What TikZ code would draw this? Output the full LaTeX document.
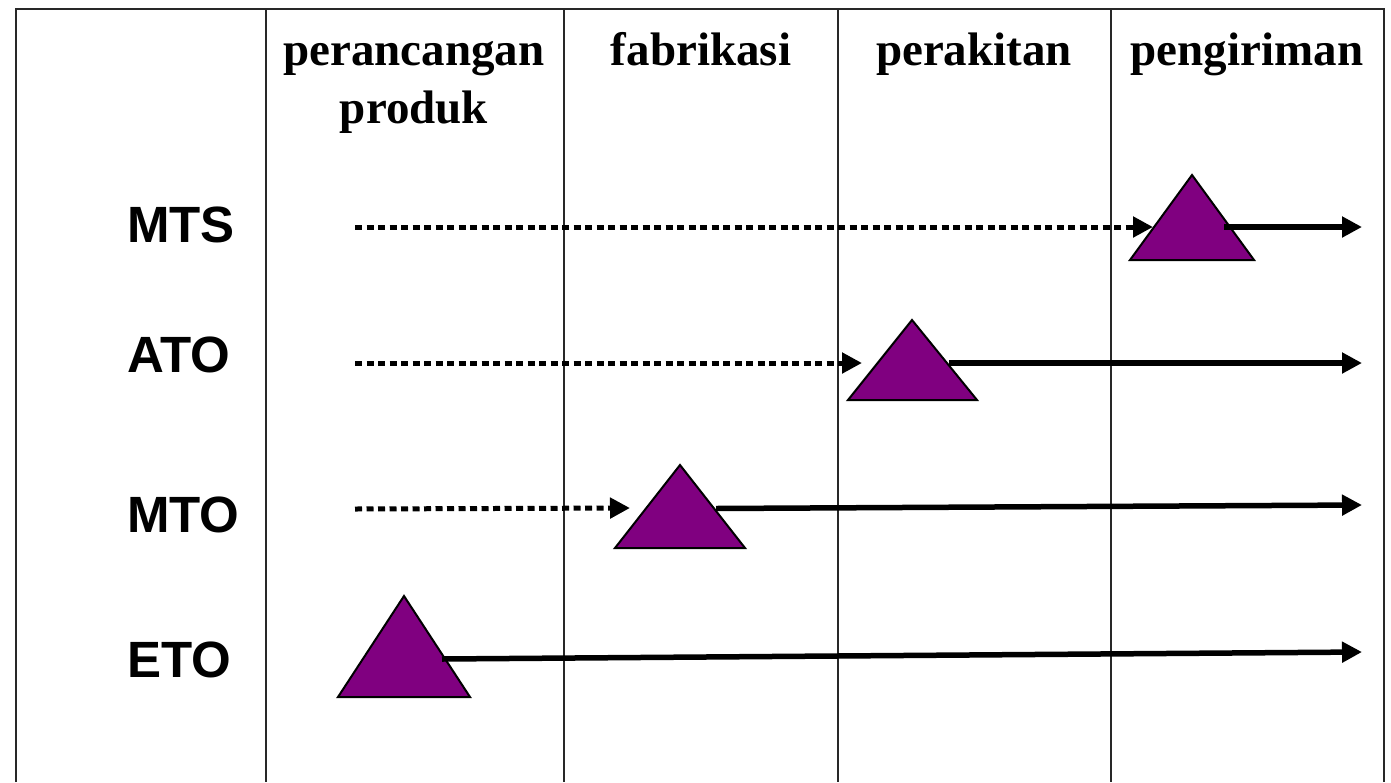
\documentclass[tikz,border=0pt]{standalone}
\usepackage{fontspec}
\setmainfont{Liberation Serif}
\newfontfamily\lblfont{Liberation Sans}
\usetikzlibrary{arrows.meta}
\definecolor{tripurple}{RGB}{128,0,128}
\definecolor{gridgray}{RGB}{40,40,40}
\tikzset{
  gridline/.style={draw=gridgray, line width=2pt},
  header/.style={font=\bfseries\fontsize{47}{58}\selectfont, anchor=base, inner sep=0pt, align=center},
  rowlabel/.style={font=\lblfont\bfseries\fontsize{51}{60}\selectfont, anchor=base west, inner sep=0pt},
  tri/.style={fill=tripurple, draw=black, line width=2pt, line join=miter},
  dotarrow/.style={draw=black, line width=5pt, dash pattern=on 7pt off 4.5pt, -{Triangle[length=20pt,width=20pt]}},
  solidarrow/.style={draw=black, line width=5.5pt, -{Triangle[length=20pt,width=20pt]}}
}
\begin{document}
\begin{tikzpicture}[x=1pt,y=-1pt]
\useasboundingbox (0,0) rectangle (1391,782);
% grid
\draw[gridline] (16,782) -- (16,9) -- (1384,9) -- (1384,782);
\foreach \xx in {266,564,838,1111}{ \draw[gridline] (\xx,9) -- (\xx,782); }
% headers
\node[header] (h1) at (414,123) {perancangan\\produk};
\node[header] (h2) at (701,65) {fabrikasi};
\node[header] (h3) at (974,65) {perakitan};
\node[header] (h4) at (1247,65) {pengiriman};
% row labels
\node[rowlabel] (mts) at (127,242) {MTS};
\node[rowlabel] (ato) at (127,372) {ATO};
\node[rowlabel] (mto) at (127,532) {MTO};
\node[rowlabel] (eto) at (127,677) {ETO};
% MTS
\coordinate (mtsS) at (355,227);
\coordinate (mtsT) at (1153,227);
\draw[dotarrow] (mtsS) -- (mtsT);
\coordinate (mtsA) at (1192,175);
\coordinate (mtsL) at (1130,260);
\coordinate (mtsR) at (1254,260);
\filldraw[tri] (mtsA) -- (mtsL) -- (mtsR) -- cycle;
\coordinate (mtsB) at (1224,227);
\coordinate (mtsE) at (1362,227);
\draw[solidarrow] (mtsB) -- (mtsE);
% ATO
\coordinate (atoS) at (355,363);
\coordinate (atoT) at (862,363);
\draw[dotarrow] (atoS) -- (atoT);
\coordinate (atoA) at (912,320);
\coordinate (atoL) at (848,400);
\coordinate (atoR) at (977,400);
\filldraw[tri] (atoA) -- (atoL) -- (atoR) -- cycle;
\coordinate (atoB) at (949,363);
\coordinate (atoE) at (1362,363);
\draw[solidarrow] (atoB) -- (atoE);
% MTO
\coordinate (mtoS) at (355,509);
\coordinate (mtoT) at (630,508);
\draw[dotarrow] (mtoS) -- (mtoT);
\coordinate (mtoA) at (680,465);
\coordinate (mtoL) at (615,548);
\coordinate (mtoR) at (745,548);
\filldraw[tri] (mtoA) -- (mtoL) -- (mtoR) -- cycle;
\coordinate (mtoB) at (716,508.5);
\coordinate (mtoE) at (1362,505);
\draw[solidarrow] (mtoB) -- (mtoE);
% ETO
\coordinate (etoA) at (404,596);
\coordinate (etoL) at (338,697);
\coordinate (etoR) at (470,697);
\filldraw[tri] (etoA) -- (etoL) -- (etoR) -- cycle;
\coordinate (etoB) at (442,659);
\coordinate (etoE) at (1362,652);
\draw[solidarrow] (etoB) -- (etoE);
\end{tikzpicture}
\end{document}
